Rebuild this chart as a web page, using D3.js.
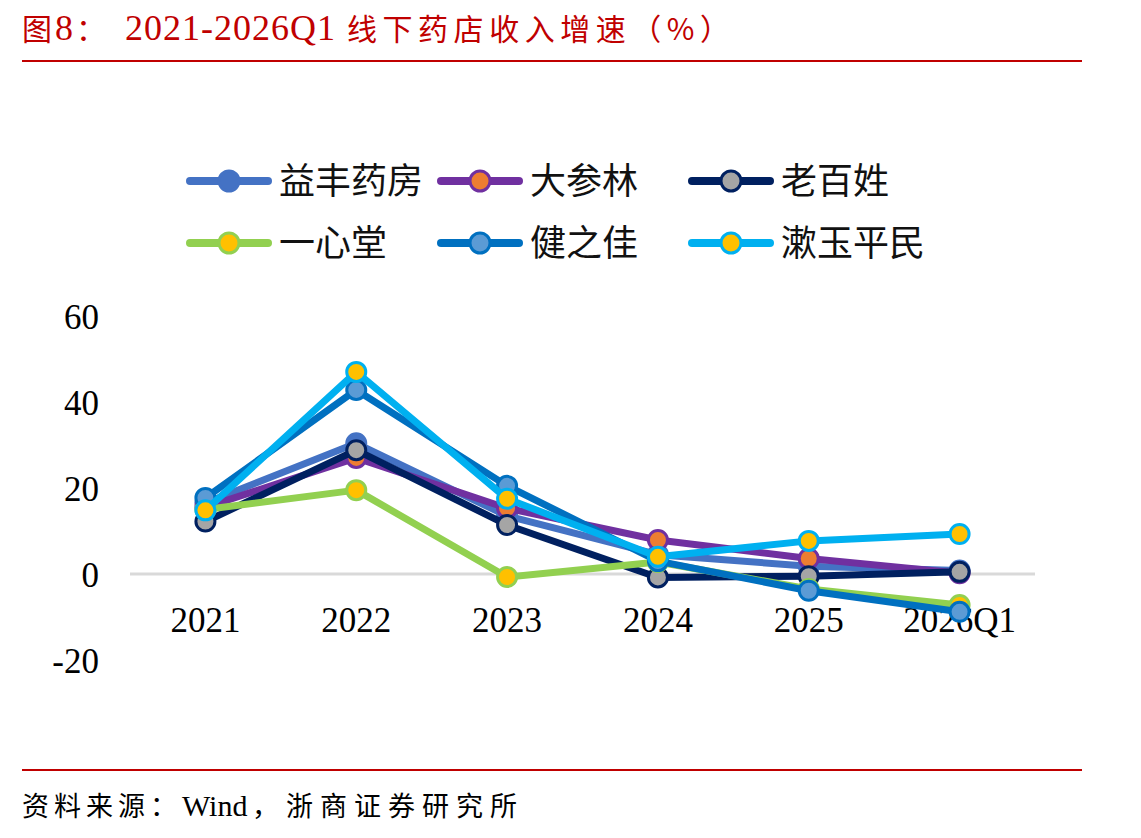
<!DOCTYPE html>
<html><head><meta charset="utf-8">
<script src="https://cdn.jsdelivr.net/npm/d3@7"></script>
<style>body{margin:0;background:#fff;} svg{display:block;}</style>
</head><body>
<svg id="c" width="1141" height="838"></svg>
<script>
const categories = ["2021","2022","2023","2024","2025","2026Q1"];
const seriesNames = ["益丰药房","大参林","老百姓","一心堂","健之佳","漱玉平民"];
const yfyf = [16.5, 30.4, 13.5, 4.5, 1.8, 0.8];
const dsl  = [15.5, 27.0, 15.3, 7.9, 3.6, 0.2];
const lbx  = [12.2, 28.8, 11.4, -0.8, -0.5, 0.5];
const yxt  = [15.0, 19.5, -0.7, 2.8, -3.5, -7.2];
const jzj  = [17.7, 42.8, 20.5, 3.0, -3.9, -8.8];
const sypm = [14.8, 47.0, 17.5, 4.0, 7.7, 9.3];
const yTicks = [-20, 0, 20, 40, 60];
const lineColors = ["#4472C4","#7030A0","#002060","#92D050","#0070C0","#00B0F0"];
const fillColors = ["#4472C4","#ED7D31","#A5A5A5","#FFC000","#5B9BD5","#FFC000"];

const values = [yfyf, dsl, lbx, yxt, jzj, sypm];
const series = seriesNames.map((n,i)=>({name:n, values:values[i], line:lineColors[i], fill:fillColors[i]}));

const svg = d3.select("#c");
const serif = "'Liberation Serif','Times New Roman','Noto Sans CJK SC',serif";
const cjk = "'Noto Sans CJK SC','Liberation Serif',sans-serif";

// Title
const t = svg.append("text").attr("y",40).attr("fill","#C00000");
t.append("tspan").attr("x",22).style("font-family",cjk).style("font-size","30px").text("图");
t.append("tspan").attr("x",55).style("font-family",serif).style("font-size","36px").text("8");
t.append("tspan").attr("x",76).style("font-family",cjk).style("font-size","30px").text("：");
t.append("tspan").attr("x",125).style("font-family",serif).style("font-size","36px")
  .attr("textLength",210).attr("lengthAdjust","spacing").text("2021-2026Q1");
t.append("tspan").attr("x",347).style("font-family",cjk).style("font-size","30px")
  .attr("textLength",383).attr("lengthAdjust","spacing").text("线下药店收入增速（%）");

svg.append("line").attr("x1",22).attr("x2",1082).attr("y1",61).attr("y2",61)
  .attr("stroke","#C00000").attr("stroke-width",2);
svg.append("line").attr("x1",22).attr("x2",1082).attr("y1",770).attr("y2",770)
  .attr("stroke","#C00000").attr("stroke-width",2);

// Source
svg.append("text").attr("x",22).attr("y",816).attr("fill","#000")
  .style("font-family",cjk).style("font-size","27px").style("letter-spacing","5px").text("资料来源：");
svg.append("text").attr("x",182).attr("y",816).attr("fill","#000")
  .style("font-family",serif).style("font-size","30px").text("Wind");
svg.append("text").attr("x",252).attr("y",816).attr("fill","#000")
  .style("font-family",cjk).style("font-size","27px").style("letter-spacing","7px").text("，浙商证券研究所");

// Scales
const x = d3.scaleBand().domain(categories).range([130,1035]);
const y = d3.scaleLinear().domain([-20,60]).range([660,316]);

// Zero line
svg.append("line").attr("x1",130).attr("x2",1035).attr("y1",y(0)).attr("y2",y(0))
  .attr("stroke","#D9D9D9").attr("stroke-width",3);

// Y axis
const yAxis = svg.append("g").attr("transform","translate(99,0)")
  .call(d3.axisLeft(y).tickValues(yTicks).tickSize(0).tickPadding(0).tickFormat(d=>String(d)));
yAxis.select(".domain").remove();
yAxis.selectAll("text").style("font-family",serif).style("font-size","35px").attr("fill","#000").attr("dy","0.35em");

// X axis labels
const xAxis = svg.append("g").attr("transform",`translate(0,${y(0)})`)
  .call(d3.axisBottom(x).tickSize(0).tickPadding(0));
xAxis.select(".domain").remove();
xAxis.selectAll("text").style("font-family",serif).style("font-size","35px").attr("fill","#000")
  .attr("y",46).attr("dy","0.35em");

// Series
const cx = c => x(c) + x.bandwidth()/2;
const line = d3.line().x((d,i)=>cx(categories[i])).y(d=>y(d));
series.forEach(s=>{
  const g = svg.append("g");
  g.append("path").attr("d",line(s.values)).attr("fill","none")
    .attr("stroke",s.line).attr("stroke-width",7).attr("stroke-linejoin","round").attr("stroke-linecap","round");
  g.selectAll("circle").data(s.values).join("circle")
    .attr("cx",(d,i)=>cx(categories[i])).attr("cy",d=>y(d)).attr("r",9.5)
    .attr("fill",s.fill).attr("stroke",s.line).attr("stroke-width",3);
});

// Legend
const legX = [186, 437, 688];
const legY = [181, 243];
series.forEach((s,i)=>{
  const lx = legX[i%3], ly = legY[Math.floor(i/3)];
  const g = svg.append("g").attr("transform",`translate(${lx},${ly})`);
  g.append("line").attr("x1",4).attr("x2",82).attr("y1",0).attr("y2",0)
    .attr("stroke",s.line).attr("stroke-width",8).attr("stroke-linecap","round");
  g.append("circle").attr("cx",43).attr("cy",0).attr("r",10)
    .attr("fill",s.fill).attr("stroke",s.line).attr("stroke-width",3);
  g.append("text").attr("x",93).attr("y",0).attr("dy","0.36em")
    .style("font-family",cjk).style("font-size","36px").attr("fill","#111")
    .text(s.name);
});
</script>
</body></html>
